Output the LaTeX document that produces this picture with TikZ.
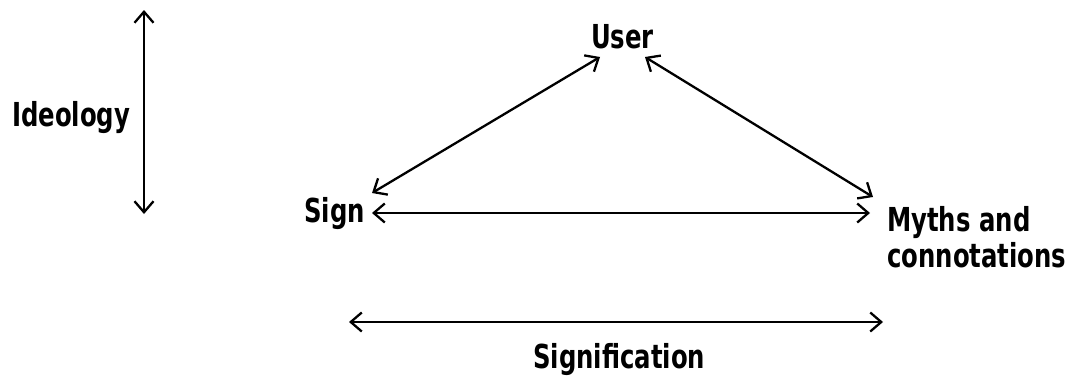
\documentclass[tikz,border=0pt]{standalone}
\usepackage{fontspec}
\setmainfont{DejaVu Sans Condensed}[BoldFont={DejaVu Sans Condensed Bold}, FakeStretch=0.82]
\usetikzlibrary{arrows.meta}
\tikzset{
  lbl/.style={inner sep=0pt, anchor=base west, font=\fontsize{33}{36}\selectfont\bfseries},
  biarrow/.style={line width=2.3pt, {Straight Barb[length=11pt,width=19pt,line width=2.3pt]}-{Straight Barb[length=11pt,width=19pt,line width=2.3pt]}}
}
\begin{document}
\begin{tikzpicture}[x=1pt,y=-1pt]
\useasboundingbox (0,0) rectangle (1068,380);
% labels
\node[lbl] (ideology) at (12,126) {Ideology};
\node[lbl] (user) at (591,48) {User};
\node[lbl] (sign) at (304,222) {Sign};
\node[lbl] (myths) at (887,231) {Myths and};
\node[lbl] (conn) at (887,267) {connotations};
\node[lbl] (signif) at (533,368) {Signification};
% arrow end points
\coordinate (idtop) at (144,10);
\coordinate (idbot) at (144,214);
\coordinate (signNE) at (372,193);
\coordinate (userSW) at (600,57);
\coordinate (userSE) at (645,57);
\coordinate (mythsNW) at (873,197);
\coordinate (signE) at (372,213);
\coordinate (mythsW) at (870,213);
\coordinate (sigL) at (349,322);
\coordinate (sigR) at (883,322);
% connectors
\draw[biarrow] (idtop) -- (idbot);
\draw[biarrow] (signNE) -- (userSW);
\draw[biarrow] (userSE) -- (mythsNW);
\draw[biarrow] (signE) -- (mythsW);
\draw[biarrow] (sigL) -- (sigR);
\end{tikzpicture}
\end{document}
